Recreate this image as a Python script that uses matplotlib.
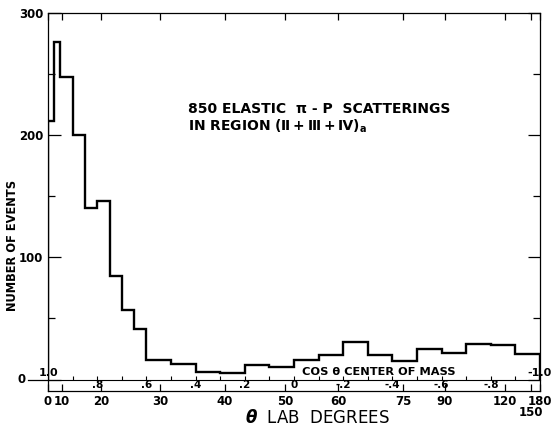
import numpy as np
import matplotlib
matplotlib.use("Agg")
import matplotlib.pyplot as plt
import matplotlib.transforms as mtrans

# bin edges in cos(theta) center of mass, from forward (1.0) to backward (-1.0)
cos_edges = [1.0, 0.975, 0.95, 0.9, 0.85, 0.8, 0.75, 0.7, 0.65, 0.6,
             0.5, 0.4, 0.3, 0.2, 0.1, 0.0, -0.1, -0.2, -0.3, -0.4,
             -0.5, -0.6, -0.7, -0.8, -0.9, -1.0]
counts = [212, 276, 248, 200, 140, 146, 85, 57, 41, 16,
          13, 6, 5, 12, 10, 16, 20, 31, 20, 15,
          25, 22, 29, 28, 21]

# lab angle scale (degrees) and where each sits on the cos theta CM axis
lab_deg = [0, 10, 20, 30, 40, 50, 60, 75, 90, 120, 150, 180]
lab_cos = [1.0, 0.943, 0.785, 0.545, 0.280, 0.037, -0.179, -0.443, -0.614, -0.858, -0.963, -1.0]

cos_major = [0.8, 0.6, 0.4, 0.2, 0.0, -0.2, -0.4, -0.6, -0.8]
cos_major_lbl = [".8", ".6", ".4", ".2", "0", "-.2", "-.4", "-.6", "-.8"]
cos_minor = [0.9, 0.7, 0.5, 0.3, 0.1, -0.1, -0.3, -0.5, -0.7, -0.9]

plt.rcParams["font.family"] = "DejaVu Sans"
plt.rcParams["font.weight"] = "bold"

fig = plt.figure(figsize=(5.58, 4.29), dpi=100)
ax = fig.add_axes([48/558, 1-391/429, 492/558, 378/429])

ymin, ymax = -9.4, 300
ax.set_xlim(1.0, -1.0)
ax.set_ylim(ymin, ymax)

ax.stairs(counts[::-1], cos_edges[::-1], color="black", linewidth=1.7)

for s in ax.spines.values():
    s.set_linewidth(0.9)

# lab-angle ticks on bottom and top
lbls = [str(d) if d != 150 else "" for d in lab_deg]
ax.set_xticks(lab_cos)
ax.set_xticklabels(lbls, fontsize=8.5)
ax.tick_params(axis="x", direction="in", length=5, width=0.9, pad=3, top=True)
ax.text(-0.963, -0.058, "150", transform=mtrans.blended_transform_factory(ax.transData, ax.transAxes),
        ha="center", va="center", fontsize=8.5, fontweight="bold")

# y ticks
ax.set_yticks([0, 100, 200, 300])
ax.set_yticklabels(["", "100", "200", "300"], fontsize=8.5)
ax.set_yticks([50, 150, 250], minor=True)
ax.tick_params(axis="y", which="major", direction="in", length=9, width=0.9, right=True)
ax.tick_params(axis="y", which="minor", direction="in", length=5, width=0.9, right=True)
blend = mtrans.blended_transform_factory(ax.transAxes, ax.transData)
ax.plot([-0.04, 0], [0, 0], color="black", lw=0.9, transform=blend, clip_on=False)
ax.text(-0.045, 0, "0", transform=blend, ha="right", va="center", fontsize=8.5, fontweight="bold")

# cos theta axis along the zero line
sec = ax.secondary_xaxis((0 - ymin) / (ymax - ymin))
sec.spines["bottom"].set_linewidth(0.8)
sec.set_xticks(cos_major)
sec.set_xticklabels(cos_major_lbl, fontsize=7.5)
sec.set_xticks(cos_minor, minor=True)
sec.tick_params(which="both", direction="in", length=3, width=0.8, pad=0.5)

ax.text(1.0, 1.5, "1.0", ha="center", va="bottom", fontsize=8, fontweight="bold")
ax.text(-1.0, 1.5, "-1.0", ha="center", va="bottom", fontsize=8, fontweight="bold")
ax.text(-0.033, 2.0, "COS θ CENTER OF MASS", ha="left", va="bottom", fontsize=8.2, fontweight="bold")

ax.text(0.431, 218, "850 ELASTIC  π - P  SCATTERINGS", ha="left", va="baseline", fontsize=10, fontweight="bold")
ax.text(0.431, 204, "IN REGION (Ⅱ\u2009+\u2009Ⅲ\u2009+\u2009Ⅳ)$_\\mathregular{a}$", ha="left", va="baseline",
        fontsize=10, fontweight="bold")

ax.set_ylabel("NUMBER OF EVENTS", fontsize=8.3, fontweight="bold")
ax.yaxis.set_label_coords(-0.058, 0.386)

fig.text(317/558, 1-418/429, "$\\theta$  LAB  DEGREES", ha="center", va="center", fontsize=12, fontweight="normal")

fig.savefig("out.png", dpi=100)
